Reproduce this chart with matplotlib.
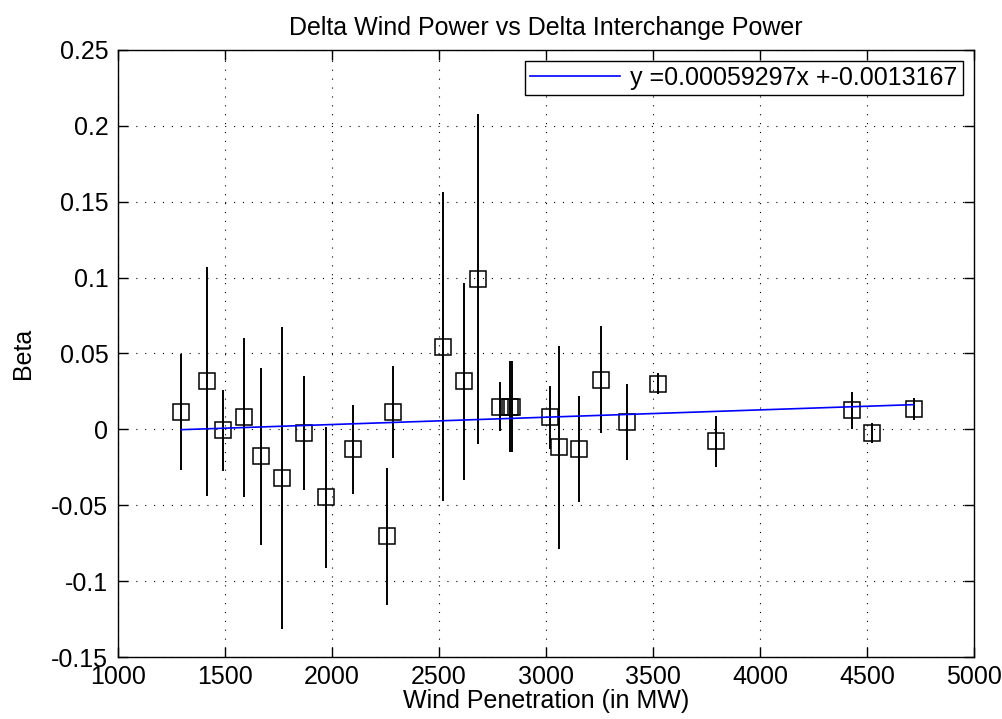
import matplotlib
matplotlib.use("Agg")
import matplotlib.pyplot as plt
import matplotlib.ticker as ticker

# wind penetration (MW), estimated beta and its +/- error
wind_mw = [1295, 1416, 1490, 1590, 1666, 1767, 1869, 1970, 2100, 2259,
           2286, 2517, 2619, 2684, 2783, 2833, 2842, 3017, 3061, 3155,
           3256, 3377, 3525, 3794, 4431, 4525, 4718]
beta = [0.0114, 0.0316, -0.0007, 0.0080, -0.0178, -0.0320, -0.0024, -0.0447,
        -0.0130, -0.0704, 0.0114, 0.0546, 0.0316, 0.0990, 0.0150, 0.0150,
        0.0150, 0.0079, -0.0118, -0.0130, 0.0327, 0.0048, 0.0300, -0.0079,
        0.0125, -0.0024, 0.0136]
beta_err = [0.0380, 0.0755, 0.0265, 0.0525, 0.0585, 0.0995, 0.0375, 0.0465,
            0.0293, 0.0452, 0.0305, 0.1015, 0.0648, 0.1085, 0.0160, 0.0300,
            0.0300, 0.0210, 0.0670, 0.0348, 0.0352, 0.0248, 0.0070, 0.0166,
            0.0120, 0.0066, 0.0071]

# linear fit drawn over the data range
fit_x = [1295, 4718]
fit_y = [-0.0002, 0.0163]
fit_label = "y =0.00059297x +-0.0013167"

plt.rcParams["font.family"] = ["Liberation Sans", "DejaVu Sans"]
FS = 18

fig = plt.figure(figsize=(10.02, 7.19), dpi=100)
ax = fig.add_axes([0.1178, 0.0862, 0.8542, 0.8443])

ax.errorbar(wind_mw, beta, yerr=beta_err, fmt="none", ecolor="black",
            elinewidth=1.4, capsize=0, zorder=3)
ax.plot(wind_mw, beta, linestyle="none", marker="s", markersize=12,
        markerfacecolor="none", markeredgecolor="black",
        markeredgewidth=1.1, zorder=4)
ax.plot(fit_x, fit_y, color="#0000ff", linewidth=1.2, label=fit_label,
        zorder=5)

ax.set_xlim(1000, 5000)
ax.set_ylim(-0.15, 0.25)
ax.xaxis.set_major_locator(ticker.MultipleLocator(500))
ax.yaxis.set_major_locator(ticker.MultipleLocator(0.05))
ax.yaxis.set_major_formatter(ticker.FuncFormatter(lambda v, p: f"{v:g}" if abs(v) > 1e-9 else "0"))

ax.grid(True, color="black", linewidth=0.8, linestyle=(0, (1, 7)))
ax.tick_params(direction="in", length=7, width=1, top=True, right=True,
               labelsize=FS)
ax.tick_params(axis="x", pad=5.5)
ax.tick_params(axis="y", pad=7)
for s in ax.spines.values():
    s.set_linewidth(1.0)

ax.set_title("Delta Wind Power vs Delta Interchange Power", fontsize=FS, pad=11)
ax.set_xlabel("Wind Penetration (in MW)", fontsize=FS, labelpad=0)
ax.set_ylabel("Beta", fontsize=FS, labelpad=12)

leg = ax.legend(loc="upper right", fontsize=FS, fancybox=False,
                edgecolor="black", framealpha=1, handlelength=3.6,
                handletextpad=0.4, borderpad=0.2, borderaxespad=0.45)
leg.get_frame().set_linewidth(1.0)

fig.savefig("out.png", dpi=100)
